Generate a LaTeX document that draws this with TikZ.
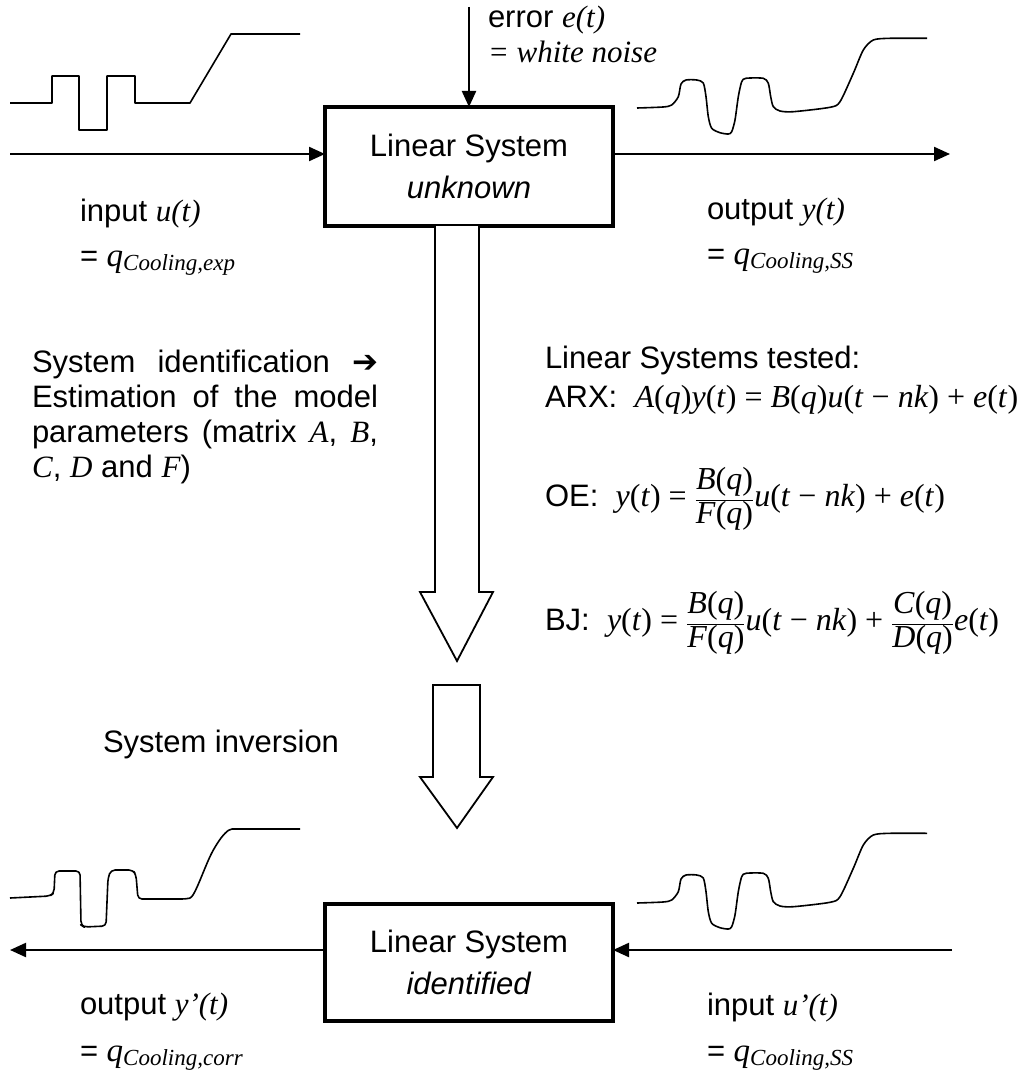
\documentclass[tikz,border=0pt]{standalone}
\usepackage{fontspec}
\setmainfont{Liberation Sans}
\newfontfamily\tms{Liberation Serif}
\newfontfamily\dejavu{DejaVu Sans}
\usetikzlibrary{arrows.meta}
\newcommand\qsub[1]{{\tms\fontsize{33}{33}\selectfont\textit{q}}\raisebox{-4pt}{\tms\fontsize{23}{23}\selectfont\textit{#1}}}
\newcommand\ti[1]{{\tms\textit{#1}}}
\newcommand\mathfs{\tms\fontsize{32}{36}\selectfont}
\newcommand\fr[2]{$\displaystyle\frac{\mbox{\mathfs#1}}{\mbox{\mathfs#2}}$}
\begin{document}
\begin{tikzpicture}[x=1pt,y=-1pt,
  every node/.style={inner sep=0pt, outer sep=0pt},
  sysbox/.style={draw, line width=4pt, minimum width=288pt, minimum height=119pt, align=center, font=\fontsize{31}{42}\selectfont},
  sig/.style={line width=2.2pt, -{Triangle[length=16pt,width=14pt]}},
  wave/.style={line width=1.6pt, line join=round},
  hollow/.style={line width=1.8pt, fill=white, line join=miter},
  lbl/.style={anchor=base west, font=\fontsize{31}{36}\selectfont},
]
\useasboundingbox (0,0) rectangle (1024,1070);

% boxes
\node[sysbox] (sys1) at (469,166.5) {Linear System\\\textit{unknown}};
\node[sysbox, minimum height=117pt] (sys2) at (469,962.5) {Linear System\\\textit{identified}};

% signal arrows top
\coordinate (inS) at (10,154);
\coordinate (outE) at (950,154);
\coordinate (errS) at (469,7);
\draw[sig] (inS) -- (inS -| sys1.west);
\draw[sig] (inS -| sys1.east) -- (outE);
\draw[sig] (errS) -- (sys1.north);

% signal arrows bottom
\coordinate (inE2) at (952,950);
\coordinate (outW2) at (10,950);
\draw[sig] (inE2) -- (inE2 -| sys2.east);
\draw[sig] (outW2 -| sys2.west) -- (outW2);

% hollow arrows
\coordinate (shL) at (435,0);
\coordinate (shR) at (479,0);
\draw[hollow] (shL |- sys1.south) -- (435,592) -- (420,592) -- (457,661) -- (493,592) -- (479,592) -- (shR |- sys1.south);
\draw[hollow] (433,685) -- (433,777) -- (420,777) -- (457,828) -- (493,777) -- (480,777) -- (480,685) -- cycle;

% waveforms
\draw[wave] (10,103) -- (52,103) -- (52,76) -- (79,76) -- (79,130) -- (107,130) -- (107,76) -- (135,76) -- (135,103) -- (190,103) -- (231,34) -- (300,34);

\draw[wave, rounded corners=4pt] (10,898) -- (50,896) -- (54,893) -- (55,871) -- (80,871) -- (81,925) -- (84,927) -- (106,926) -- (108,878) -- (111,870) -- (133,870) -- (136,875) -- (138,899) -- (186,899) .. controls (195,897) and (205,865) .. (215,847) .. controls (222,836) and (228,829) .. (236,829) -- (300,829);

\draw[wave] plot[smooth, tension=0.45] coordinates {(637,108) (663,107) (671.7,105) (678.3,96.7) (681,84) (686,80) (696.7,80) (703.3,83) (706,96.7) (708.3,116.7) (711.7,128.3) (720,132.7) (728.3,134) (731.7,131.7) (735,120) (738.3,96.7) (741.7,81.7) (746,78.3) (763.3,78.3) (768.3,83.3) (770.7,96.7) (773.3,106.7) (780,111) (793.3,111.7) (830,107.3) (840,101.7) (853.3,73.3) (863.3,50) (873.3,40) (890,38.3) (927,38.3)};

\begin{scope}[shift={(0,795)}]
\draw[wave] plot[smooth, tension=0.45] coordinates {(637,108) (663,107) (671.7,105) (678.3,96.7) (681,84) (686,80) (696.7,80) (703.3,83) (706,96.7) (708.3,116.7) (711.7,128.3) (720,132.7) (728.3,134) (731.7,131.7) (735,120) (738.3,96.7) (741.7,81.7) (746,78.3) (763.3,78.3) (768.3,83.3) (770.7,96.7) (773.3,106.7) (780,111) (793.3,111.7) (830,107.3) (840,101.7) (853.3,73.3) (863.3,50) (873.3,40) (890,38.3) (927,38.3)};
\end{scope}

% labels top
\node[lbl] (err) at (488,28) {error {\tms\itshape e(t)}};
\node[lbl] (wn) at (488,63) {{\tms\itshape = white noise}};
\node[lbl] (in1) at (80,221) {input {\tms\itshape u(t)}};
\node[lbl] (in1q) at (80,266) {= \qsub{Cooling,exp}};
\node[lbl] (out1) at (707,219) {output {\tms\itshape y(t)}};
\node[lbl] (out1q) at (707,264) {= \qsub{Cooling,SS}};

% left paragraph
\node[anchor=base west, text width=346pt, align=justify, font=\fontsize{31}{35}\selectfont] (ident) at (32,372)
  {System identification {\dejavu ➔}\linebreak
   Estimation of the model\linebreak
   parameters (matrix \ti{A}, \ti{B},\linebreak
   \ti{C}, \ti{D} and \ti{F})};

% right block
\node[lbl] (lst) at (545,368) {Linear Systems tested:};
\node[lbl] (arx) at (545,407) {ARX:\ \ {\mathfs\textit{A}(\textit{q})\textit{y}(\textit{t}) = \textit{B}(\textit{q})\textit{u}(\textit{t} − \textit{nk}) + \textit{e}(\textit{t})}};
\node[lbl] (oe) at (545,506) {OE:\ \ {\mathfs\textit{y}(\textit{t}) = \fr{\textit{B}(\textit{q})}{\textit{F}(\textit{q})}\textit{u}(\textit{t} − \textit{nk}) + \textit{e}(\textit{t})}};
\node[lbl] (bj) at (545,630) {BJ:\ \ {\mathfs\textit{y}(\textit{t}) = \fr{\textit{B}(\textit{q})}{\textit{F}(\textit{q})}\textit{u}(\textit{t} − \textit{nk}) + \fr{\textit{C}(\textit{q})}{\textit{D}(\textit{q})}\textit{e}(\textit{t})}};

\node[lbl] (inv) at (103,752) {System inversion};

% labels bottom
\node[lbl] (out2) at (80,1014) {output {\tms\itshape y’(t)}};
\node[lbl] (out2q) at (80,1061) {= \qsub{Cooling,corr}};
\node[lbl] (in2) at (707,1015) {input {\tms\itshape u’(t)}};
\node[lbl] (in2q) at (707,1061) {= \qsub{Cooling,SS}};
\end{tikzpicture}
\end{document}
